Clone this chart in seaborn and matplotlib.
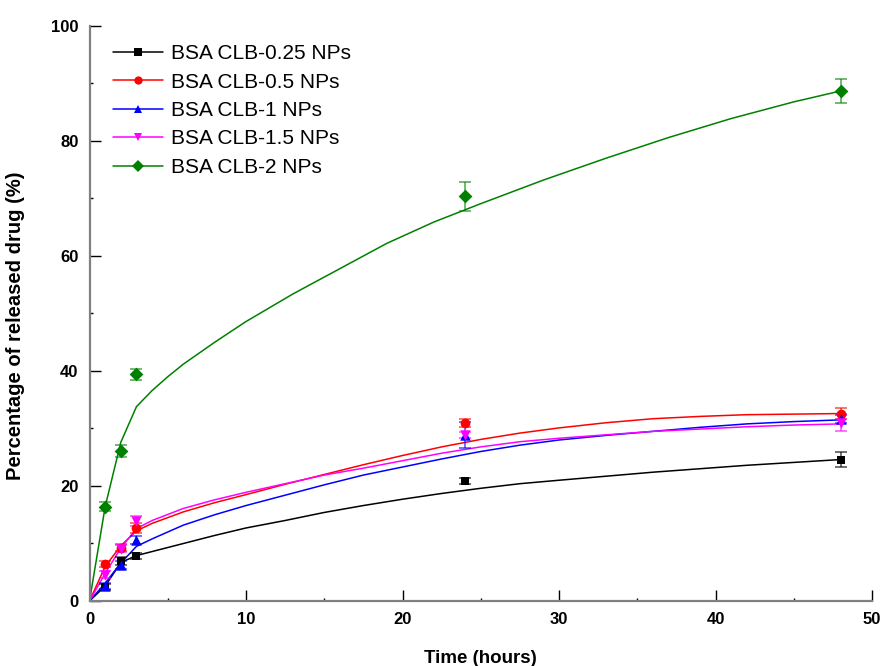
import matplotlib
matplotlib.use("Agg")
import matplotlib.pyplot as plt
from matplotlib.lines import Line2D
from matplotlib.ticker import MultipleLocator
import seaborn as sns

# =========================================
# 1. DATA
# =========================================
series_names = ["BSA CLB-0.25 NPs", "BSA CLB-0.5 NPs", "BSA CLB-1 NPs",
                "BSA CLB-1.5 NPs", "BSA CLB-2 NPs"]
colors = ["#000000", "#ff0000", "#0000ff", "#ff00ff", "#008000"]
markers = ["s", "o", "^", "v", "D"]

# measured release points
time_h = [1, 2, 3, 24, 48]
rel_025 = [2.4, 7.0, 7.8, 20.9, 24.6]
rel_05 = [6.4, 9.3, 12.7, 30.9, 32.6]
rel_1 = [2.6, 6.3, 10.6, 28.9, 31.7]
rel_15 = [4.6, 9.1, 13.9, 28.9, 31.0]
rel_2 = [16.4, 26.1, 39.4, 70.4, 88.7]

err_025 = [0.5, 0.7, 0.5, 0.5, 1.3]
err_05 = [0.5, 0.6, 0.8, 0.7, 1.0]
err_1 = [0.5, 0.7, 0.7, 2.3, 0.7]
err_15 = [0.6, 0.6, 0.8, 0.5, 1.5]
err_2 = [0.8, 1.0, 1.0, 2.5, 2.1]

# fitted curves
fit_t = [0, 1, 2, 3, 4, 6, 8, 10, 12.5, 15, 17.5, 20, 22.5, 25, 27.5, 30,
         33, 36, 39, 42, 45, 48]
fit_025 = [0, 2.6, 6.7, 7.9, 8.6, 10.0, 11.4, 12.7, 14.0, 15.4, 16.6, 17.7,
           18.7, 19.6, 20.4, 21.0, 21.7, 22.4, 23.0, 23.6, 24.1, 24.6]
fit_05 = [0, 6.0, 9.6, 12.2, 13.5, 15.5, 17.1, 18.5, 20.3, 22.0, 23.7, 25.3,
          26.8, 28.1, 29.2, 30.1, 31.0, 31.7, 32.1, 32.4, 32.5, 32.6]
fit_1 = [0, 3.1, 6.6, 9.5, 10.8, 13.2, 15.0, 16.6, 18.4, 20.2, 21.9, 23.3,
         24.7, 26.0, 27.1, 28.0, 28.8, 29.5, 30.2, 30.8, 31.2, 31.5]
fit_15 = [0, 4.8, 9.2, 12.6, 14.0, 16.1, 17.6, 18.9, 20.4, 21.9, 23.1, 24.4,
          25.7, 26.8, 27.7, 28.3, 28.9, 29.5, 29.9, 30.3, 30.6, 30.8]

fit_t_2 = [0, 1, 2, 3, 4, 5, 6, 8, 10, 13, 16, 19, 22, 25, 29, 33, 37, 41, 45, 48]
fit_2 = [0, 16.4, 27.6, 33.8, 36.6, 39.0, 41.2, 45.0, 48.6, 53.4, 57.8, 62.2,
         65.9, 69.1, 73.2, 77.0, 80.6, 83.9, 86.8, 88.7]

points = [rel_025, rel_05, rel_1, rel_15, rel_2]
errors = [err_025, err_05, err_1, err_15, err_2]
fits_x = [fit_t, fit_t, fit_t, fit_t, fit_t_2]
fits_y = [fit_025, fit_05, fit_1, fit_15, fit_2]
msizes = [6, 7, 7.5, 7.5, 7]

# =========================================
# 2. STYLE
# =========================================
sns.set_style("ticks")
plt.rcParams["font.family"] = ["Liberation Sans", "DejaVu Sans"]
plt.rcParams["text.color"] = "black"
plt.rcParams["axes.labelcolor"] = "black"
plt.rcParams["xtick.labelcolor"] = "black"
plt.rcParams["ytick.labelcolor"] = "black"

fig = plt.figure(figsize=(8.81, 6.66), dpi=100)
ax = fig.add_axes([0.1016, 0.0976, 0.8882, 0.8634])

# =========================================
# 3. CURVES + POINTS
# =========================================
for i, name in enumerate(series_names):
    sns.lineplot(x=fits_x[i], y=fits_y[i], color=colors[i], lw=1.1,
                 ax=ax, legend=False, zorder=2)
    ax.errorbar(time_h, points[i], yerr=errors[i], fmt="none",
                ecolor=colors[i], alpha=0.65, elinewidth=1.2,
                capsize=4.5, capthick=1.2, zorder=3)
    sns.scatterplot(x=time_h, y=points[i], color=colors[i], marker=markers[i],
                    s=msizes[i] ** 2, edgecolor=colors[i], linewidth=0,
                    ax=ax, legend=False, zorder=4)

# legend
handles = [Line2D([0], [0], color=colors[i], lw=1.1, marker=markers[i],
                  markersize=msizes[i] * 0.85, markeredgewidth=0)
           for i in range(len(series_names))]
leg = ax.legend(handles, series_names, loc="upper left",
                bbox_to_anchor=(0.03, 0.968), frameon=False, fontsize=15,
                handlelength=2.4, handletextpad=0.38, labelspacing=0.45,
                borderpad=0, borderaxespad=0)
for txt in leg.get_texts():
    txt.set_color("black")

# =========================================
# 4. AXES
# =========================================
ax.set_xlim(0, 50)
ax.set_ylim(0, 100)
ax.xaxis.set_major_locator(MultipleLocator(10))
ax.xaxis.set_minor_locator(MultipleLocator(5))
ax.yaxis.set_major_locator(MultipleLocator(20))
ax.yaxis.set_minor_locator(MultipleLocator(10))

ax.tick_params(which="major", direction="in", length=8, width=1,
               color="black", labelcolor="black", pad=8, labelsize=12)
ax.tick_params(which="minor", direction="in", length=2.5, width=1, color="black")
for lbl in ax.get_xticklabels() + ax.get_yticklabels():
    lbl.set_fontweight("bold")

sns.despine(ax=ax)
for side in ["left", "bottom"]:
    ax.spines[side].set_color("#808080")
    ax.spines[side].set_linewidth(1.6)

ax.set_xlabel("Time (hours)", fontsize=13.5, fontweight="bold", color="black")
ax.set_ylabel("Percentage of released drug (%)", fontsize=14.5,
              fontweight="bold", color="black")
ax.xaxis.set_label_coords(0.5, -0.085)
ax.yaxis.set_label_coords(-0.082, 0.478)

plt.savefig("out.png", dpi=100)
plt.close()
